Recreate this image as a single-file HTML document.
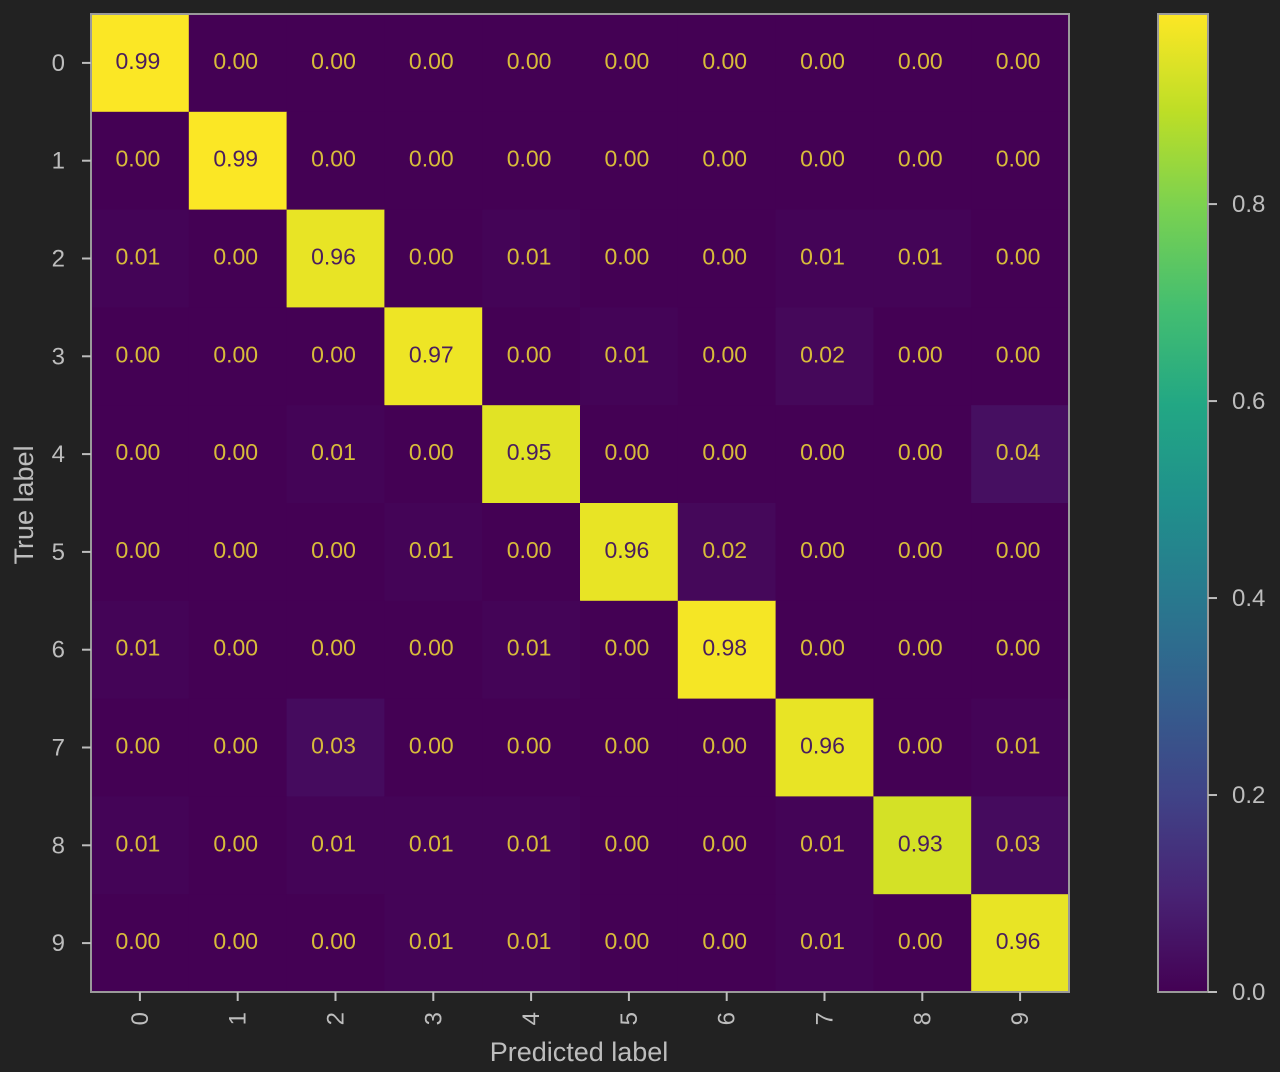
<!DOCTYPE html>
<html><head><meta charset="utf-8"><style>
html,body{margin:0;padding:0;background:#222222;}
svg{display:block;font-family:"Liberation Sans",sans-serif;}
</style></head><body>
<svg id="chart" width="1280" height="1072" viewBox="0 0 1280 1072">
<defs><linearGradient id="cbgrad" x1="0" y1="1" x2="0" y2="0"></linearGradient></defs>
<rect width="1280" height="1072" fill="#222222"/>
<g id="cells"></g>
<g id="texts"></g>
<rect x="91" y="14" width="978" height="978" fill="none" stroke="#9a9a9a" stroke-width="2"/>
<g id="axes"></g>
<rect id="cbar" x="1158" y="14" width="50" height="978" fill="url(#cbgrad)" stroke="#9a9a9a" stroke-width="2"/>
<g id="cbticks"></g>
<text x="579" y="1061" text-anchor="middle" font-size="27" fill="#bdbdbd">Predicted label</text>
<text transform="translate(33,505) rotate(-90)" text-anchor="middle" font-size="27" fill="#bdbdbd">True label</text>
</svg>
<script>
const classes = ["0","1","2","3","4","5","6","7","8","9"];
const row0 = [0.99,0.00,0.00,0.00,0.00,0.00,0.00,0.00,0.00,0.00];
const row1 = [0.00,0.99,0.00,0.00,0.00,0.00,0.00,0.00,0.00,0.00];
const row2 = [0.01,0.00,0.96,0.00,0.01,0.00,0.00,0.01,0.01,0.00];
const row3 = [0.00,0.00,0.00,0.97,0.00,0.01,0.00,0.02,0.00,0.00];
const row4 = [0.00,0.00,0.01,0.00,0.95,0.00,0.00,0.00,0.00,0.04];
const row5 = [0.00,0.00,0.00,0.01,0.00,0.96,0.02,0.00,0.00,0.00];
const row6 = [0.01,0.00,0.00,0.00,0.01,0.00,0.98,0.00,0.00,0.00];
const row7 = [0.00,0.00,0.03,0.00,0.00,0.00,0.00,0.96,0.00,0.01];
const row8 = [0.01,0.00,0.01,0.01,0.01,0.00,0.00,0.01,0.93,0.03];
const row9 = [0.00,0.00,0.00,0.01,0.01,0.00,0.00,0.01,0.00,0.96];
const colorbarTicks = [0.0,0.2,0.4,0.6,0.8];
const cbTickLabels = ["0.0","0.2","0.4","0.6","0.8"];
const vmin = 0, vmax = 0.993;

const matrix=[row0,row1,row2,row3,row4,row5,row6,row7,row8,row9];
const NS="http://www.w3.org/2000/svg";
const X0=91,Y0=14,W=978,H=978,n=classes.length,cw=W/n,ch=H/n;
const xS=i=>X0+i*cw, yS=i=>Y0+i*ch;
const cbY=v=>992-(v-vmin)/(vmax-vmin)*978;
const vir=[[68,1,84],[72,35,116],[64,67,135],[52,94,141],[41,120,142],[32,144,140],[34,167,132],[68,190,112],[121,209,81],[189,222,38],[253,231,37]];
function viridis(t){t=Math.max(0,Math.min(1,t));const p=t*(vir.length-1),i=Math.min(Math.floor(p),vir.length-2),f=p-i;
const c=vir[i].map((a,k)=>Math.round(a+(vir[i+1][k]-a)*f));return `rgb(${c[0]},${c[1]},${c[2]})`;}
function mk(tag,attrs,parent){const e=document.createElementNS(NS,tag);for(const k in attrs)e.setAttribute(k,attrs[k]);parent.appendChild(e);return e;}
const cells=document.getElementById('cells'),texts=document.getElementById('texts'),axes=document.getElementById('axes');
matrix.forEach((row,r)=>row.forEach((v,c)=>{
  const t=(v-vmin)/(vmax-vmin);
  const rc=mk('rect',{x:xS(c),y:yS(r),width:cw+0.5,height:ch+0.5,fill:viridis(t)},cells);
  
  
  const tx=mk('text',{x:xS(c)+cw/2-2,y:yS(r)+ch/2+6,'text-anchor':'middle','font-size':'23',fill:t>0.5?'#4a1d5e':'#d8bc3a'},texts);
  tx.textContent=v.toFixed(2);
  
  
}));
classes.forEach((lab,i)=>{
  const cy=yS(i)+ch/2;
  mk('line',{x1:X0-9,x2:X0,y1:cy,y2:cy,stroke:'#bdbdbd','stroke-width':2},axes);
  const ty=mk('text',{x:X0-26,y:cy+8,'text-anchor':'end','font-size':'24',fill:'#bdbdbd'},axes);
  ty.textContent=lab;
  
  
  const cx=xS(i)+cw/2;
  mk('line',{x1:cx,x2:cx,y1:992,y2:1001,stroke:'#bdbdbd','stroke-width':2},axes);
  const tx=mk('text',{transform:`translate(${cx+8},1012) rotate(-90)`,'text-anchor':'end','font-size':'24',fill:'#bdbdbd'},axes);
  tx.textContent=lab;
  
  
});
const grad=document.getElementById('cbgrad');
vir.forEach((c,i)=>mk('stop',{offset:(i/(vir.length-1)),'stop-color':`rgb(${c[0]},${c[1]},${c[2]})`},grad));
const cbt=document.getElementById('cbticks');
colorbarTicks.forEach((v,i)=>{
  const y=cbY(v);
  mk('line',{x1:1208,x2:1217,y1:y,y2:y,stroke:'#bdbdbd','stroke-width':2},cbt);
  const t=mk('text',{x:1232,y:y+8,'font-size':'24',fill:'#bdbdbd'},cbt);
  t.textContent=cbTickLabels[i];
  
  
});
</script>
</body></html>
